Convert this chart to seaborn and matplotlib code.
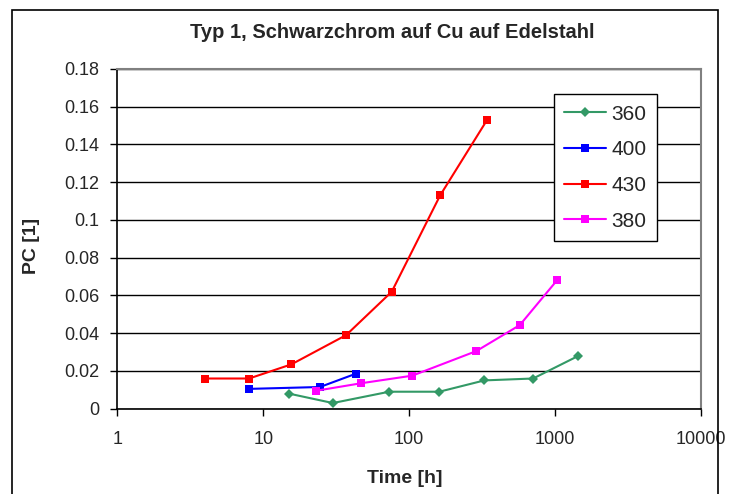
import matplotlib
matplotlib.use("Agg")
import matplotlib.pyplot as plt
import matplotlib.ticker as mticker
from matplotlib.patches import Rectangle
import seaborn as sns
import pandas as pd

# ---- data ----
series_names = ["360", "400", "430", "380"]
t_360 = [15, 30, 73, 161, 328, 707, 1445]
pc_360 = [0.008, 0.003, 0.009, 0.009, 0.015, 0.016, 0.028]
t_400 = [8, 24.5, 43]
pc_400 = [0.0105, 0.0115, 0.0185]
t_430 = [4, 8, 15.6, 37, 76, 163, 342]
pc_430 = [0.016, 0.016, 0.0235, 0.039, 0.062, 0.113, 0.153]
t_380 = [23, 47, 105, 288, 573, 1038]
pc_380 = [0.0095, 0.0135, 0.0175, 0.0305, 0.0443, 0.0683]
x_ticks = [1, 10, 100, 1000, 10000]
y_ticks = [0, 0.02, 0.04, 0.06, 0.08, 0.1, 0.12, 0.14, 0.16, 0.18]
title = "Typ 1, Schwarzchrom auf Cu auf Edelstahl"
xlabel = "Time [h]"
ylabel = "PC [1]"

rows = []
for name, ts, ps in zip(series_names, [t_360, t_400, t_430, t_380],
                        [pc_360, pc_400, pc_430, pc_380]):
    for t, p in zip(ts, ps):
        rows.append({"Series": name, "Time": t, "PC": p})
df = pd.DataFrame(rows)

sns.set_style("white")
plt.rcParams["font.family"] = ["Liberation Sans", "DejaVu Sans"]

palette = {"360": "#339966", "400": "#0000FF", "430": "#FF0000", "380": "#FF00FF"}
markers = {"360": "D", "400": "s", "430": "s", "380": "s"}

fig = plt.figure(figsize=(7.3, 4.94), dpi=100)
ax = fig.add_axes([117.3 / 730, 1 - 408.7 / 494, (701 - 117.3) / 730, (408.7 - 69) / 494])

sns.lineplot(data=df, x="Time", y="PC", hue="Series", style="Series",
             hue_order=series_names, style_order=series_names,
             palette=palette, markers=markers, dashes=False, sort=False,
             markersize=5.5, markeredgewidth=0, linewidth=1.5, ax=ax)
for line in ax.lines:
    if line.get_marker() == "D":
        line.set_markersize(5)

ax.set_xscale("log")
ax.set_xlim(1, 10000)
ax.set_ylim(0, 0.18)
ax.set_xticks(x_ticks)
ax.xaxis.set_major_formatter(mticker.FuncFormatter(lambda v, p: "%g" % v))
ax.xaxis.set_minor_locator(mticker.NullLocator())
ax.set_yticks(y_ticks)
ax.yaxis.set_major_formatter(mticker.FuncFormatter(lambda v, p: "%g" % round(v, 2)))

ax.grid(axis="y", color="black", linewidth=1)
ax.grid(axis="x", visible=False)
ax.set_axisbelow(True)

for s in ["left", "bottom"]:
    ax.spines[s].set_color("black")
    ax.spines[s].set_linewidth(1.2)
for s in ["top", "right"]:
    ax.spines[s].set_color("#808080")
    ax.spines[s].set_linewidth(1.5)

ax.tick_params(axis="both", which="major", direction="out", length=5, width=1,
               color="black", labelsize=13, bottom=True, left=True)
ax.tick_params(axis="x", pad=11)
ax.tick_params(axis="y", pad=8)

ax.set_xlabel("")
ax.set_ylabel("")
fig.text(405 / 730, 1 - 478 / 494, xlabel, fontsize=14, fontweight="bold",
         ha="center", va="center")
fig.text(32 / 730, 1 - 246 / 494, ylabel, fontsize=14, fontweight="bold",
         rotation=90, ha="center", va="center")
fig.text(392 / 730, 1 - 33 / 494, title, fontsize=14.5, fontweight="bold",
         ha="center", va="center")

leg = ax.legend(loc="upper left", bbox_to_anchor=(0.748, 0.926), fontsize=15,
                frameon=True, fancybox=False, edgecolor="black", framealpha=1,
                handlelength=2.0, handletextpad=0.25, borderpad=0.5,
                labelspacing=0.8, borderaxespad=0)
leg.get_frame().set_linewidth(1)

fig.patches.append(Rectangle((12 / 730, -0.02), (718 - 12) / 730, 1.02 - 10 / 494,
                             transform=fig.transFigure, fill=False,
                             edgecolor="black", linewidth=1.2))

fig.savefig("out.png", dpi=100)
